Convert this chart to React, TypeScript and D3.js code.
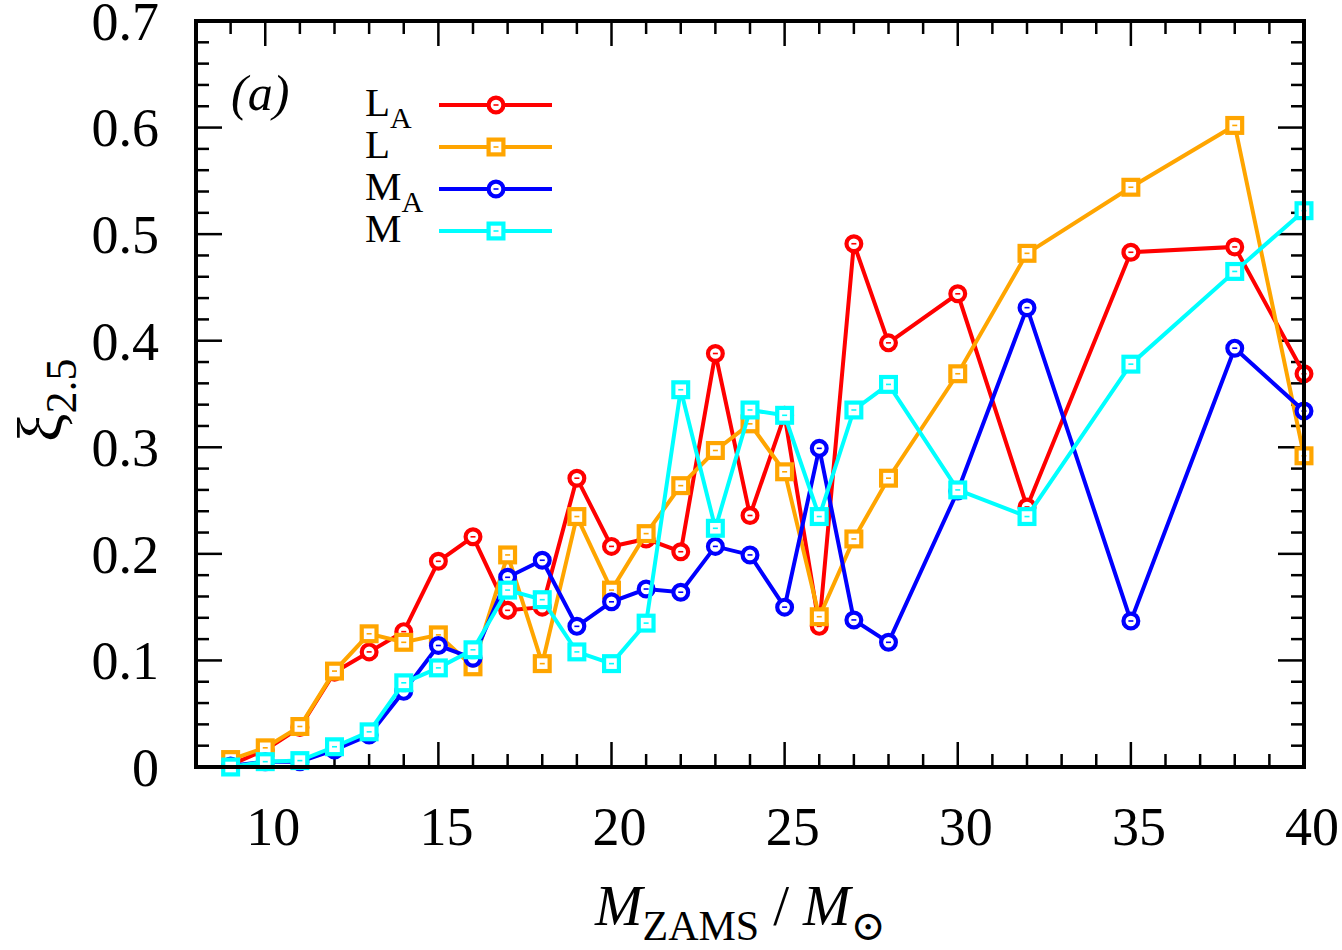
import React from 'react';
import * as d3 from 'd3';

// masses (x) shared by all four series
const masses = [9, 10, 11, 12, 13, 14, 15, 16, 17, 18, 19, 20, 21, 22, 23, 24, 25, 26, 27, 28, 30, 32, 35, 38, 40];

const xiLA = [0.002, 0.016, 0.037, 0.089, 0.108, 0.127, 0.193, 0.216, 0.147, 0.150, 0.271, 0.207, 0.214, 0.202, 0.388, 0.236, 0.330, 0.132, 0.491, 0.398, 0.444, 0.244, 0.483, 0.488, 0.369];
const xiL = [0.007, 0.018, 0.038, 0.090, 0.125, 0.117, 0.124, 0.094, 0.199, 0.097, 0.235, 0.166, 0.219, 0.264, 0.297, 0.322, 0.277, 0.141, 0.214, 0.271, 0.369, 0.482, 0.544, 0.602, 0.292];
const xiMA = [0.001, 0.005, 0.005, 0.016, 0.030, 0.071, 0.114, 0.102, 0.178, 0.194, 0.132, 0.155, 0.167, 0.164, 0.207, 0.199, 0.150, 0.299, 0.138, 0.117, 0.259, 0.431, 0.137, 0.393, 0.334];
const xiM = [0.000, 0.005, 0.006, 0.019, 0.033, 0.079, 0.093, 0.110, 0.166, 0.157, 0.108, 0.097, 0.135, 0.354, 0.224, 0.335, 0.330, 0.235, 0.335, 0.359, 0.260, 0.235, 0.378, 0.465, 0.522];

const xTicks = [10, 15, 20, 25, 30, 35, 40];
const yTicks = [0, 0.1, 0.2, 0.3, 0.4, 0.5, 0.6, 0.7];

const series = [
  { label: 'L', sub: 'A', color: '#ff0000', marker: 'circle', values: xiLA },
  { label: 'L', sub: '', color: '#ffa500', marker: 'square', values: xiL },
  { label: 'M', sub: 'A', color: '#0000ff', marker: 'circle', values: xiMA },
  { label: 'M', sub: '', color: '#00ffff', marker: 'square', values: xiM },
];

const W = 1342;
const H = 950;
const left = 196, right = 1304, top = 21, bottom = 767;
const font = '"Liberation Serif", "DejaVu Serif", serif';

const Marker = ({ type, cx, cy, color }) => {
  if (type === 'circle') {
    return (
      <g>
        <circle cx={cx} cy={cy} r={7.4} fill="#fff" stroke={color} strokeWidth={4.2} />
        <line x1={cx - 2.5} x2={cx + 2.5} y1={cy} y2={cy} stroke={color} strokeWidth={1.6} />
      </g>
    );
  }
  return (
    <g>
      <rect x={cx - 7.4} y={cy - 7.4} width={14.8} height={14.8} fill="#fff" stroke={color} strokeWidth={4.2} />
      <line x1={cx - 2.5} x2={cx + 2.5} y1={cy} y2={cy} stroke={color} strokeWidth={1.6} />
    </g>
  );
};

export default function App() {
  const x = d3.scaleLinear().domain([8, 40]).range([left, right]);
  const y = d3.scaleLinear().domain([0, 0.7]).range([bottom, top]);

  const line = d3.line<number>()
    .x((_, i) => x(masses[i]))
    .y(d => y(d));

  const xMinor = d3.range(9, 40, 1).filter(v => v % 5 !== 0);
  const yMinor = d3.range(0, 71, 2).map(v => v / 100).filter((v, i) => i % 5 !== 0);

  const legendY = [105, 147, 189, 231];

  return (
    <div style={{ position: 'absolute', left: 0, top: 0 }}>
      <svg width={W} height={H} style={{ display: 'block', background: '#fff' }}>
        {/* ticks on all four sides */}
        <g stroke="#000" strokeWidth={2.5}>
          {xTicks.map(v => (
            <g key={'xt' + v}>
              <line x1={x(v)} x2={x(v)} y1={bottom} y2={bottom - 25} />
              <line x1={x(v)} x2={x(v)} y1={top} y2={top + 25} />
            </g>
          ))}
          {xMinor.map(v => (
            <g key={'xm' + v}>
              <line x1={x(v)} x2={x(v)} y1={bottom} y2={bottom - 13} />
              <line x1={x(v)} x2={x(v)} y1={top} y2={top + 13} />
            </g>
          ))}
          {yTicks.map(v => (
            <g key={'yt' + v}>
              <line x1={left} x2={left + 26} y1={y(v)} y2={y(v)} />
              <line x1={right} x2={right - 26} y1={y(v)} y2={y(v)} />
            </g>
          ))}
          {yMinor.map(v => (
            <g key={'ym' + v}>
              <line x1={left} x2={left + 13} y1={y(v)} y2={y(v)} />
              <line x1={right} x2={right - 13} y1={y(v)} y2={y(v)} />
            </g>
          ))}
        </g>

        {/* tick labels */}
        <g fontFamily={font} fontSize={54} fill="#000">
          {xTicks.map(v => (
            <text key={'xl' + v} x={x(v) + 8} y={845} textAnchor="middle">{v}</text>
          ))}
          {yTicks.map(v => (
            <text key={'yl' + v} x={159} y={y(v)} dy="0.35em" textAnchor="end">{String(v)}</text>
          ))}
        </g>

        {/* series */}
        {series.map((s, si) => (
          <g key={'s' + si}>
            <path d={line(s.values) || ''} fill="none" stroke={s.color} strokeWidth={4} strokeLinejoin="miter" />
            {s.values.map((v, i) => (
              <Marker key={i} type={s.marker} cx={x(masses[i])} cy={y(v)} color={s.color} />
            ))}
          </g>
        ))}

        {/* border */}
        <rect x={left} y={top} width={right - left} height={bottom - top} fill="none" stroke="#000" strokeWidth={4} />

        {/* panel label */}
        <text x={231} y={110} fontFamily={font} fontSize={50} fontStyle="italic">(a)</text>

        {/* legend */}
        <g fontFamily={font}>
          {series.map((s, i) => (
            <g key={'lg' + i}>
              <text x={365} y={legendY[i] + 11} fontSize={41}>
                {s.label}
                {s.sub && <tspan fontSize={30} dy={12}>{s.sub}</tspan>}
              </text>
              <line x1={439} x2={552} y1={legendY[i]} y2={legendY[i]} stroke={s.color} strokeWidth={4} />
              <Marker type={s.marker} cx={496} cy={legendY[i]} color={s.color} />
            </g>
          ))}
        </g>

        {/* x axis title */}
        <text x={595} y={925} fontFamily={font} fontSize={57}>
          <tspan fontStyle="italic">M</tspan>
          <tspan fontSize={42} dy={15}>ZAMS</tspan>
          <tspan dy={-15} dx={14}>/</tspan>
          <tspan fontStyle="italic" dx={14}>M</tspan>
          <tspan fontSize={42} dy={15}>⊙</tspan>
        </text>

        {/* y axis title */}
        <text transform="translate(62,442) rotate(-90)" fontFamily={font} fontSize={64}>
          ξ
          <tspan fontSize={44} dy={14}>2.5</tspan>
        </text>
      </svg>
    </div>
  );
}
